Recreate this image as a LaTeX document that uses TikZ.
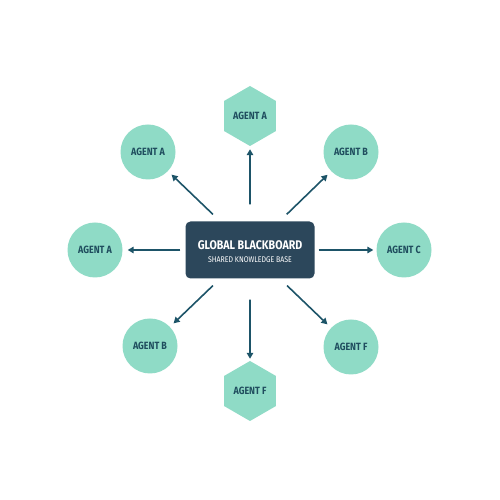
\documentclass[tikz,border=0pt]{standalone}
\usepackage{fontspec}
\setmainfont[FakeStretch=0.85]{Fira Sans}
\usetikzlibrary{arrows.meta,shapes.geometric}
\definecolor{navy}{HTML}{2C475B}
\definecolor{mint}{HTML}{8FDBC6}
\definecolor{tealtext}{HTML}{1F4D5E}
\definecolor{arrowc}{HTML}{1D5468}
\tikzset{
  agentfont/.style={text=tealtext,font=\fontsize{10.5}{11}\selectfont\bfseries},
  agentc/.style={circle,fill=mint,minimum size=55pt,inner sep=0pt,agentfont},
  agenth/.style={regular polygon,regular polygon sides=6,shape border rotate=30,fill=mint,minimum size=60pt,inner sep=0pt,agentfont},
  link/.style={draw=arrowc,line width=1.6pt,-{Triangle[length=6pt,width=6.5pt]}},
  board/.style={rectangle,rounded corners=5pt,fill=navy,minimum width=129pt,minimum height=57pt,inner sep=0pt}
}
\begin{document}
\begin{tikzpicture}[x=1pt,y=1pt]
\useasboundingbox[fill=white] (0,0) rectangle (500,500);
\node[board] (box) at (250,250) {};
\node[text=white,font=\fontsize{12.5}{13}\selectfont\bfseries] (t1) at (250,255) {GLOBAL BLACKBOARD};
\node[text=white,font=\fontsize{8.2}{9}\selectfont] (t2) at (250,240) {SHARED KNOWLEDGE BASE};
\node[agenth] (ht) at (250,384) {AGENT A};
\node[agenth] (hb) at (250,109) {AGENT F};
\node[agentc] (tl) at (148,348) {AGENT A};
\node[agentc] (tr) at (351,348) {AGENT B};
\node[agentc] (l) at (95,250) {AGENT A};
\node[agentc] (r) at (404,250) {AGENT C};
\node[agentc] (bl) at (150,154) {AGENT B};
\node[agentc] (br) at (351,153) {AGENT F};
\draw[link,shorten <=17pt,shorten >=3pt] (box.north) -- (ht);
\draw[link,shorten <=21pt,shorten >=2pt] (box.south) -- (hb);
\draw[link,shorten <=5pt,shorten >=5pt] (box.west) -- (l);
\draw[link,shorten <=4pt,shorten >=3pt] (box.east) -- (r);
\draw[link,shorten <=10pt,shorten >=5pt] (box) -- (tl);
\draw[link,shorten <=10pt,shorten >=5pt] (box) -- (tr);
\draw[link,shorten <=10pt,shorten >=5pt] (box) -- (bl);
\draw[link,shorten <=10pt,shorten >=5pt] (box) -- (br);
\end{tikzpicture}
\end{document}
